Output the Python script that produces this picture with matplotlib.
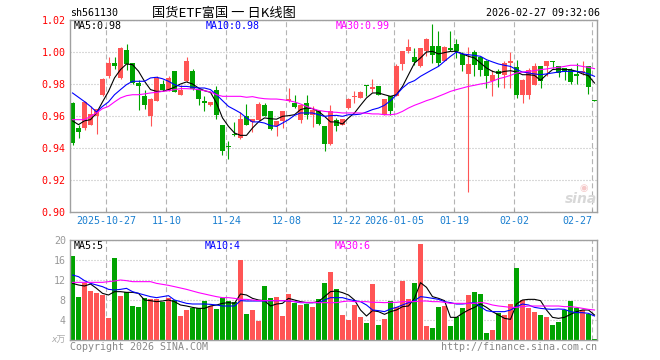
import numpy as np
import matplotlib
matplotlib.use('Agg')
import matplotlib.pyplot as plt

plt.rcParams['font.family'] = ['DejaVu Sans Mono', 'Noto Sans CJK SC']
plt.rcParams['lines.scale_dashes'] = False

W, H = 660, 360

# x axis labels (index of trading day -> label)
tick_idx = [6, 16, 26, 36, 46, 54, 64, 74, 87]
tick_lbl = ['2025-10-27', '11-10', '11-24', '12-08', '12-22',
            '2026-01-05', '01-19', '02-02', '02-27']

# daily candles
opens = [0.968, 0.9525, 0.9525, 0.9546, 0.960, 0.9733, 0.9848, 0.9931, 0.9838, 1.0015,
         0.993, 0.9806, 0.9727, 0.9598, 0.9696, 0.980, 0.9765, 0.988, 0.9733, 0.9817,
         0.988, 0.977, 0.9696, 0.9667, 0.9765, 0.9546, 0.9412, 0.9487, 0.9463, 0.9598,
         0.9563, 0.9573, 0.9671, 0.9633, 0.9535, 0.9567, 0.9692, 0.9681, 0.9577, 0.9681,
         0.9608, 0.9629, 0.9535, 0.9425, 0.9577, 0.9546, 0.965, 0.9717, 0.9713, 0.9787,
         0.9771, 0.9785, 0.9608, 0.9723, 0.9723, 0.9925, 1.0004, 0.9967, 0.991, 1.0004,
         1.0035, 1.0035, 0.9946, 1.0025, 1.005, 0.9988, 0.9863, 1.0, 0.9967, 0.9942,
         0.9817, 0.9879, 0.9858, 0.9931, 0.9906, 0.9733, 0.9733, 0.9796, 0.991, 0.991,
         0.9946, 0.9915, 0.990, 0.989, 0.9863, 0.9869, 0.991, 0.9696]
highs = [0.969, 0.9545, 0.9696, 0.966, 0.9646, 0.9838, 0.9967, 0.9967, 1.003, 1.005,
         0.993, 0.9827, 0.9765, 0.9713, 0.9848, 0.9827, 0.9848, 0.9883, 0.9796, 0.9967,
         0.9896, 0.977, 0.9723, 0.9685, 0.9785, 0.9546, 0.9446, 0.9563, 0.9623, 0.9675,
         0.9581, 0.9685, 0.9681, 0.9633, 0.9571, 0.9633, 0.9775, 0.9733, 0.9667, 0.9729,
         0.966, 0.964, 0.9535, 0.9667, 0.9588, 0.9583, 0.9713, 0.9758, 0.9758, 0.9796,
         0.9831, 0.9785, 0.9708, 0.9723, 0.9925, 1.0004, 1.0083, 1.0025, 1.0025, 1.0088,
         1.0175, 1.013, 1.0035, 1.0129, 1.0083, 1.0, 1.0031, 1.0015, 0.9973, 0.9952,
         0.989, 0.9896, 0.9942, 1.0, 0.9948, 0.9833, 0.990, 0.9931, 0.991, 0.9946,
         0.9946, 0.9915, 0.990, 0.990, 0.9931, 0.9946, 0.991, 0.9698]
lows = [0.942, 0.9463, 0.9515, 0.9546, 0.949, 0.9723, 0.9838, 0.9894, 0.9833, 0.989,
        0.980, 0.964, 0.9644, 0.954, 0.9692, 0.9758, 0.9758, 0.9748, 0.9729, 0.9813,
        0.9765, 0.967, 0.963, 0.9663, 0.958, 0.9358, 0.933, 0.9475, 0.9458, 0.9542,
        0.9498, 0.9567, 0.9598, 0.9515, 0.9473, 0.9525, 0.9688, 0.965, 0.9556, 0.9583,
        0.9529, 0.9546, 0.938, 0.9421, 0.9508, 0.9542, 0.9646, 0.968, 0.9713, 0.9723,
        0.9748, 0.9729, 0.9608, 0.9608, 0.9723, 0.989, 0.9996, 0.9921, 0.9904, 0.9973,
        0.9931, 0.991, 0.9942, 1.0008, 0.9963, 0.9879, 0.9125, 0.9852, 0.9848, 0.9775,
        0.9723, 0.9779, 0.9775, 0.9775, 0.9713, 0.9681, 0.9708, 0.9792, 0.9775, 0.9848,
        0.990, 0.9842, 0.9827, 0.980, 0.980, 0.9858, 0.974, 0.9692]
closes = [0.943, 0.950, 0.9688, 0.9613, 0.9644, 0.9833, 0.9931, 0.9915, 1.0025, 0.9925,
          0.9806, 0.9785, 0.9667, 0.9708, 0.9838, 0.9765, 0.9838, 0.975, 0.9765, 0.9946,
          0.977, 0.9706, 0.968, 0.9685, 0.9604, 0.9379, 0.9404, 0.9483, 0.9581, 0.9546,
          0.9581, 0.9677, 0.9602, 0.9519, 0.9567, 0.9633, 0.9706, 0.9654, 0.9667, 0.9608,
          0.964, 0.955, 0.9425, 0.9629, 0.9535, 0.9583, 0.9708, 0.9723, 0.9748, 0.9785,
          0.978, 0.9733, 0.9708, 0.9629, 0.9915, 1.0004, 1.003, 0.9935, 1.0025, 1.0081,
          0.9983, 0.9931, 1.003, 1.0015, 1.0004, 0.9917, 0.9925, 0.9917, 0.9885, 0.9848,
          0.9858, 0.9863, 0.9931, 0.9946, 0.9729, 0.9827, 0.989, 0.991, 0.9817, 0.9946,
          0.9935, 0.9869, 0.9875, 0.981, 0.9848, 0.9883, 0.9779, 0.9694]

ma5 = [0.957, 0.9546, 0.957, 0.9577, 0.9619, 0.9688, 0.9754, 0.9838, 0.989, 0.9925,
       0.9921, 0.988, 0.9817, 0.9765, 0.9754, 0.9754, 0.9765, 0.978, 0.98, 0.9813,
       0.98, 0.9775, 0.9758, 0.9748, 0.9681, 0.9588, 0.9535, 0.9494, 0.9479, 0.9479,
       0.9525, 0.9563, 0.9588, 0.9583, 0.958, 0.9598, 0.9602, 0.9608, 0.964, 0.965,
       0.9646, 0.9629, 0.9598, 0.9563, 0.9563, 0.955, 0.9588, 0.9619, 0.9667, 0.9713,
       0.9744, 0.9744, 0.9733, 0.9723, 0.9733, 0.9785, 0.9858, 0.9931, 0.9963, 1.0,
       1.0004, 0.9988, 0.9996, 1.0004, 1.0004, 0.9988, 0.9973, 0.9963, 0.9931, 0.990,
       0.9879, 0.9869, 0.9879, 0.9883, 0.9875, 0.9858, 0.9858, 0.9854, 0.9823, 0.9858,
       0.989, 0.9894, 0.989, 0.989, 0.9879, 0.9863, 0.9852, 0.9806]
ma10 = [0.9744, 0.9717, 0.969, 0.966, 0.9625, 0.966, 0.9688, 0.9733, 0.9765, 0.9796,
        0.9817, 0.9817, 0.9817, 0.9838, 0.9842, 0.9833, 0.9817, 0.9796, 0.9785, 0.9785,
        0.978, 0.9775, 0.9775, 0.9765, 0.9733, 0.9696, 0.966, 0.964, 0.9619, 0.9588,
        0.9563, 0.9563, 0.9556, 0.954, 0.9535, 0.9556, 0.9577, 0.9604, 0.9619, 0.9619,
        0.9619, 0.9608, 0.9598, 0.9602, 0.9604, 0.9598, 0.9608, 0.9608, 0.9612, 0.9625,
        0.964, 0.965, 0.9667, 0.9696, 0.9733, 0.9775, 0.9806, 0.9821, 0.9848, 0.9869,
        0.989, 0.991, 0.9942, 0.9973, 1.0, 0.9988, 0.9983, 0.9979, 0.9973, 0.9952,
        0.9938, 0.9925, 0.9917, 0.991, 0.989, 0.9875, 0.9869, 0.9863, 0.9858, 0.9863,
        0.9869, 0.9875, 0.9879, 0.9879, 0.9879, 0.9875, 0.9863, 0.9848]
ma30 = [0.9577, 0.9577, 0.9577, 0.9598, 0.9619, 0.9646, 0.966, 0.9688, 0.9713, 0.9727,
        0.9733, 0.9733, 0.9738, 0.9744, 0.9748, 0.9754, 0.9758, 0.9765, 0.9771, 0.9771,
        0.9769, 0.9765, 0.9758, 0.975, 0.9733, 0.9723, 0.9723, 0.9723, 0.9723, 0.9717,
        0.9721, 0.9713, 0.9708, 0.9706, 0.9706, 0.9702, 0.9696, 0.9688, 0.9675, 0.966,
        0.9646, 0.9635, 0.9629, 0.9625, 0.9623, 0.9619, 0.9619, 0.9619, 0.9619, 0.9617,
        0.9613, 0.9613, 0.9608, 0.9608, 0.9613, 0.9629, 0.965, 0.9667, 0.9681, 0.9696,
        0.9708, 0.9723, 0.9738, 0.9754, 0.9765, 0.9775, 0.9785, 0.9792, 0.980, 0.9806,
        0.9817, 0.9833, 0.9842, 0.9854, 0.9869, 0.9875, 0.9879, 0.9883, 0.989, 0.9894,
        0.990, 0.9904, 0.991, 0.9917, 0.9917, 0.991, 0.9904, 0.9896]

# volume in units of 10k shares
vol = [16.9, 8.67, 11.5, 9.9, 9.5, 9.0, 4.47, 16.5, 8.8, 9.7,
       6.87, 6.67, 8.47, 8.13, 8.13, 7.67, 8.33, 8.0, 4.8, 6.0,
       6.47, 6.33, 7.8, 6.8, 6.2, 8.47, 7.8, 7.53, 16.0, 5.2,
       6.0, 3.8, 10.8, 8.47, 8.67, 4.8, 9.2, 7.47, 7.0, 7.2,
       6.67, 8.13, 11.47, 13.67, 10.13, 5.0, 4.0, 7.0, 4.67, 3.47,
       11.2, 3.0, 4.2, 7.87, 6.53, 11.87, 8.2, 11.33, 19.2, 2.8,
       2.47, 6.67, 6.8, 2.87, 4.53, 6.47, 9.0, 9.6, 9.2, 1.47,
       2.07, 5.47, 5.0, 7.2, 14.47, 8.0, 6.47, 5.67, 5.0, 4.53,
       3.0, 3.67, 6.0, 7.87, 6.33, 6.0, 5.2, 0.27]
vma5 = [11.33, 11.0, 10.8, 11.2, 10.33, 9.33, 9.0, 9.67, 9.67, 9.53,
        9.53, 9.33, 8.0, 7.87, 7.67, 7.8, 8.0, 7.67, 7.0, 6.8,
        6.53, 6.33, 6.33, 6.8, 7.0, 7.33, 7.47, 7.33, 9.2, 9.0,
        8.33, 8.0, 7.87, 6.8, 7.2, 7.33, 8.33, 8.0, 7.67, 7.47,
        7.47, 7.67, 8.67, 9.67, 9.8, 9.47, 9.0, 8.0, 6.0, 4.8,
        5.87, 5.67, 5.13, 5.67, 6.0, 6.67, 6.8, 8.33, 11.47, 10.53,
        8.67, 8.33, 7.87, 4.53, 4.53, 5.33, 6.0, 6.53, 7.2, 6.53,
        5.67, 5.0, 4.33, 4.13, 7.2, 8.0, 8.13, 8.13, 7.87, 6.0,
        4.53, 4.33, 4.53, 5.13, 5.67, 6.0, 6.0, 5.0]
vma10 = [13.0, 12.67, 11.87, 11.33, 11.0, 10.67, 10.13, 10.0, 10.13, 10.33,
         9.67, 9.33, 9.0, 8.67, 8.47, 8.67, 8.87, 8.0, 7.67, 7.33,
         7.2, 7.2, 7.2, 7.13, 7.0, 6.8, 6.8, 6.8, 7.87, 7.8,
         7.8, 7.8, 7.8, 7.87, 7.87, 7.87, 7.8, 7.67, 7.47, 7.47,
         7.47, 7.47, 8.0, 8.47, 8.47, 8.47, 8.13, 7.87, 7.67, 7.0,
         6.0, 5.87, 5.67, 6.2, 6.53, 7.0, 7.47, 7.87, 8.67, 8.53,
         8.33, 8.13, 7.67, 7.47, 7.2, 7.2, 7.33, 7.47, 6.67, 5.87,
         5.67, 5.67, 5.67, 6.0, 6.67, 7.2, 7.0, 6.53, 6.33, 6.2,
         6.13, 6.2, 6.13, 5.67, 5.47, 5.47, 5.33, 4.8]
vma30 = [11.53, 11.53, 11.53, 11.53, 11.53, 11.53, 11.67, 11.8, 12.0, 11.87,
         11.67, 11.67, 11.67, 11.67, 11.33, 11.13, 10.93, 10.67, 10.4, 10.13,
         9.8, 9.47, 9.2, 8.93, 8.67, 8.47, 8.47, 8.33, 8.13, 8.13,
         8.0, 7.87, 7.87, 7.87, 7.87, 7.87, 7.87, 7.67, 7.53, 7.53,
         7.53, 7.47, 7.47, 7.47, 7.47, 7.67, 7.8, 7.67, 7.67, 7.67,
         7.53, 7.53, 7.47, 7.53, 7.53, 7.67, 7.67, 7.67, 7.8, 7.8,
         7.67, 7.67, 7.53, 7.33, 7.33, 7.33, 7.33, 7.33, 7.53, 7.33,
         7.0, 6.8, 6.67, 6.53, 6.53, 6.67, 6.8, 6.8, 6.8, 6.8,
         6.8, 6.8, 6.67, 6.67, 6.53, 6.33, 6.13, 6.0]

RED = '#ff5555'
GREEN = '#00a300'
GRID = '#b4b4b4'
FRAME = '#a0a0a0'
FS = 7.2

o = np.array(opens)
c = np.array(closes)
x = np.arange(len(o))
cols = [RED if cc >= oo else GREEN for oo, cc in zip(o, c)]
bw = 5 / 6


def px_axes(fig, x0, y0, x1, y1):
    return fig.add_axes([x0 / W, 1 - y1 / H, (x1 - x0) / W, (y1 - y0) / H])


def ptext(px, py, s, **kw):
    fig.text(px / W, 1 - py / H, s, **kw)


fig = plt.figure(figsize=(W / 100, H / 100), dpi=100)
ax = px_axes(fig, 70, 20, 597, 212)
axv = px_axes(fig, 70, 240, 597, 340)

xticks = [i - 0.35 for i in tick_idx]
for a in (ax, axv):
    a.set_xlim(-2.5 / 6, 87 + 2.5 / 6)
    a.set_axisbelow(True)
    a.set_xticks(xticks)
    a.xaxis.grid(True, color=GRID, lw=0.8, ls=(0, (3.6, 2.2)))
    a.yaxis.grid(True, color=GRID, lw=0.8, ls=(0, (0.72, 1.44)))
    for s in a.spines.values():
        s.set_color(FRAME)
        s.set_linewidth(1.0)

# candles
ax.vlines(x, lows, highs, colors=cols, lw=0.8)
body_lo = np.minimum(o, c)
body_h = np.maximum(np.abs(c - o), 0.0007)
ax.bar(x, body_h, bottom=body_lo, width=bw, color=cols, linewidth=0)
ax.plot(x, ma5, color='black', lw=0.8)
ax.plot(x, ma10, color='#0000ff', lw=0.8)
ax.plot(x, ma30, color='#ff00ff', lw=0.8)

ax.set_ylim(0.90, 1.02)
yt = [0.90, 0.92, 0.94, 0.96, 0.98, 1.00, 1.02]
ax.set_yticks(yt)
ax.set_yticklabels([f'{v:.2f}' for v in yt], color='red', fontsize=FS)
ax.tick_params(axis='y', length=0, pad=3)
ax.set_xticklabels(tick_lbl, color='#1a7fd0', fontsize=FS)
ax.tick_params(axis='x', direction='in', length=2, color=FRAME, pad=3)
ax.get_xticklabels()[-1].set_ha('right')

# volume
axv.bar(x, vol, width=bw, color=cols, linewidth=0)
axv.plot(x, vma5, color='black', lw=0.8)
axv.plot(x, vma10, color='#0000ff', lw=0.8)
axv.plot(x, vma30, color='#ff00ff', lw=0.8)
axv.set_ylim(0, 20)
axv.set_yticks([0, 4, 8, 12, 16, 20])
axv.set_yticklabels(['', '4', '8', '12', '16', '20'], color='#999999', fontsize=FS)
axv.tick_params(axis='y', length=0, pad=3)
axv.tick_params(axis='x', length=0, labelbottom=False)

# header and legends
ptext(70, 13, 'sh561130', fontsize=FS, va='center', ha='left')
ptext(224, 13, '国货ETF富国 一 日K线图', fontsize=9.5, va='center', ha='center',
      family=['Noto Sans CJK SC', 'DejaVu Sans'])
ptext(600, 13, '2026-02-27 09:32:06', fontsize=FS, va='center', ha='right')

ptext(74, 26, 'MA5:0.98', fontsize=FS, va='center', color='black')
ptext(206, 26, 'MA10:0.98', fontsize=FS, va='center', color='#0000ff')
ptext(336, 26, 'MA30:0.99', fontsize=FS, va='center', color='#ff00ff')

ptext(74, 246, 'MA5:5', fontsize=FS, va='center', color='black')
ptext(205, 246, 'MA10:4', fontsize=FS, va='center', color='#0000ff')
ptext(335, 246, 'MA30:6', fontsize=FS, va='center', color='#ff00ff')

ptext(66, 340, 'x万', fontsize=6.5, va='center', ha='right', color='#aaaaaa',
      style='italic', family=['DejaVu Sans', 'Noto Sans CJK SC'])
ptext(70, 347, 'Copyright 2026 SINA.COM', fontsize=FS, va='center', color='#888888')
ptext(597, 347, 'http://finance.sina.com.cn', fontsize=FS, va='center', ha='right',
      color='#888888')

# faint sina watermark
ptext(581, 199, 'sina', fontsize=10, va='center', ha='center', color='#d8d8d8',
      weight='bold', style='italic', family='DejaVu Sans')
ptext(584, 188, '◉', fontsize=7, va='center', ha='center', color='#f5c8c8',
      family='DejaVu Sans')

fig.savefig('out.png', dpi=100, facecolor='white')
